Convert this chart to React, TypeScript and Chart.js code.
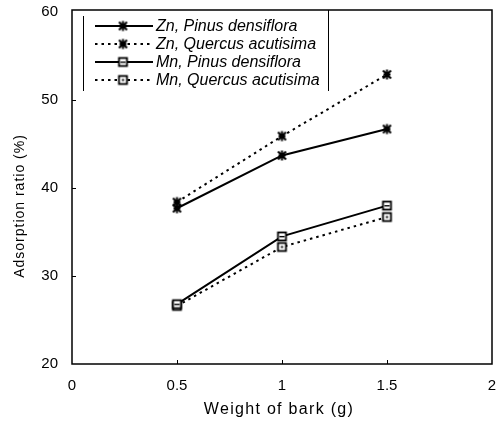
import { useEffect, useRef } from 'react';
import { Chart, registerables } from 'chart.js';

Chart.register(...registerables);

// Bark weight (g) on the x axis
const barkWeights = [0.5, 1, 1.5];
// Adsorption ratio (%) for each metal / bark species
const znPinus = [37.7, 43.7, 46.7];
const znQuercus = [38.4, 45.9, 52.9];
const mnPinus = [26.8, 34.5, 38.0];
const mnQuercus = [26.6, 33.3, 36.7];

const seriesLabels = [
  'Zn, Pinus densiflora',
  'Zn, Quercus acutisima',
  'Mn, Pinus densiflora',
  'Mn, Quercus acutisima',
];
const xTickValues = [0, 0.5, 1, 1.5, 2];
const yTickValues = [20, 30, 40, 50, 60];
const xTitle = 'Weight of bark (g)';
const yTitle = 'Adsorption ratio (%)';

const FONT = '"Liberation Sans", Arial, sans-serif';
const DOTTED = [2.5, 4];

function makeMarker(kind: 'star' | 'squareLine' | 'squareDot'): HTMLCanvasElement {
  const c = document.createElement('canvas');
  c.width = 13;
  c.height = 13;
  const g = c.getContext('2d')!;
  g.strokeStyle = '#000';
  g.fillStyle = '#000';
  if (kind === 'star') {
    g.lineWidth = 2;
    g.beginPath();
    g.moveTo(2.5, 2.5); g.lineTo(10.5, 10.5);
    g.moveTo(10.5, 2.5); g.lineTo(2.5, 10.5);
    g.moveTo(6.5, 1.5); g.lineTo(6.5, 11.5);
    g.moveTo(3, 6.5); g.lineTo(10, 6.5);
    g.stroke();
  } else {
    g.fillStyle = '#fff';
    g.fillRect(2.5, 2.5, 8, 8);
    g.lineWidth = 1.8;
    g.strokeRect(2.5, 2.5, 8, 8);
    g.fillStyle = '#000';
    if (kind === 'squareLine') {
      g.fillRect(4, 6, 5, 1.4);
    } else {
      g.fillRect(5.5, 5.5, 2, 2);
    }
  }
  return c;
}

export default function App() {
  const canvasRef = useRef<HTMLCanvasElement | null>(null);

  useEffect(() => {
    document.body.style.margin = '0';
    const canvas = canvasRef.current;
    if (!canvas) return;

    const starM = makeMarker('star');
    const sqLine = makeMarker('squareLine');
    const sqDot = makeMarker('squareDot');
    const markers = [starM, starM, sqLine, sqDot];
    const dashes = [[], DOTTED, [], DOTTED];
    const series = [znPinus, znQuercus, mnPinus, mnQuercus];

    const framePlugin = {
      id: 'frameAndLegend',
      afterDraw(chart: any) {
        const { ctx, chartArea } = chart;
        const xs = chart.scales.x;
        const ys = chart.scales.y;
        ctx.save();
        // plot frame
        ctx.strokeStyle = '#000';
        ctx.lineWidth = 1.5;
        ctx.setLineDash([]);
        ctx.strokeRect(chartArea.left, chartArea.top - 2, chartArea.right - chartArea.left, chartArea.bottom - chartArea.top + 2);
        // inward tick marks
        ctx.lineWidth = 1;
        ctx.beginPath();
        xTickValues.slice(1, -1).forEach((v) => {
          const px = Math.round(xs.getPixelForValue(v)) + 0.5;
          ctx.moveTo(px, chartArea.bottom);
          ctx.lineTo(px, chartArea.bottom - 4);
        });
        yTickValues.slice(1, -1).forEach((v) => {
          const py = Math.round(ys.getPixelForValue(v)) + 0.5;
          ctx.moveTo(chartArea.left, py);
          ctx.lineTo(chartArea.left + 4, py);
        });
        ctx.stroke();

        // axis titles
        ctx.fillStyle = '#000';
        ctx.textAlign = 'center';
        ctx.textBaseline = 'middle';
        ctx.font = `16px ${FONT}`;
        (ctx as any).letterSpacing = '1.3px';
        ctx.fillText(xTitle, 279, 410);
        ctx.save();
        ctx.translate(20, 206);
        ctx.rotate(-Math.PI / 2);
        ctx.font = `14px ${FONT}`;
        (ctx as any).letterSpacing = '1px';
        ctx.fillText(yTitle, 0, 0);
        ctx.restore();
        (ctx as any).letterSpacing = '0px';

        // legend
        ctx.lineWidth = 1;
        ctx.beginPath();
        ctx.moveTo(83.5, 16);
        ctx.lineTo(83.5, 91);
        ctx.moveTo(328.5, 10);
        ctx.lineTo(328.5, 91);
        ctx.stroke();
        const rowY = [26, 44, 62, 80];
        ctx.textAlign = 'left';
        ctx.font = `italic 16px ${FONT}`;
        seriesLabels.forEach((label, i) => {
          const y = rowY[i];
          ctx.lineWidth = 1.8;
          ctx.setLineDash(dashes[i]);
          ctx.beginPath();
          ctx.moveTo(95, y);
          ctx.lineTo(153, y);
          ctx.stroke();
          ctx.setLineDash([]);
          const m = markers[i];
          ctx.drawImage(m, 123 - m.width / 2, y - m.height / 2);
          ctx.fillText(label, 156, y + 1);
        });
        ctx.restore();
      },
    };

    const chart = new Chart(canvas, {
      type: 'line',
      data: {
        datasets: series.map((vals, i) => ({
          label: seriesLabels[i],
          data: barkWeights.map((x, j) => ({ x, y: vals[j] })),
          borderColor: '#000',
          backgroundColor: '#fff',
          borderWidth: 2,
          borderDash: dashes[i],
          pointStyle: markers[i],
          pointRadius: 5,
          fill: false,
          tension: 0,
        })),
      },
      options: {
        animation: false,
        responsive: false,
        devicePixelRatio: 1,
        layout: { padding: { left: 0, right: 12, top: 12, bottom: 0 } },
        plugins: {
          legend: { display: false },
          tooltip: { enabled: false },
        },
        scales: {
          x: {
            type: 'linear',
            min: 0,
            max: 2,
            afterFit: (s: any) => {
              s.height = 61;
              s.paddingLeft = 0;
              s.paddingRight = 0;
            },
            afterBuildTicks: (s: any) => { s.ticks = xTickValues.map((v) => ({ value: v })); },
            grid: { display: false, drawTicks: false },
            border: { display: false },
            ticks: {
              padding: 13,
              color: '#000',
              font: { family: FONT, size: 15 },
              callback: (v: any) => String(v),
            },
          },
          y: {
            type: 'linear',
            min: 20,
            max: 60,
            afterFit: (s: any) => {
              s.width = 72;
              s.paddingTop = 0;
              s.paddingBottom = 0;
            },
            afterBuildTicks: (s: any) => { s.ticks = yTickValues.map((v) => ({ value: v })); },
            grid: { display: false, drawTicks: false },
            border: { display: false },
            ticks: {
              padding: 14,
              color: '#000',
              font: { family: FONT, size: 15 },
              callback: (v: any) => String(v),
            },
          },
        },
      },
      plugins: [framePlugin],
    });

    return () => chart.destroy();
  }, []);

  return (
    <div style={{ width: 504, height: 425 }}>
      <canvas ref={canvasRef} width={504} height={425} style={{ display: 'block' }} />
    </div>
  );
}
